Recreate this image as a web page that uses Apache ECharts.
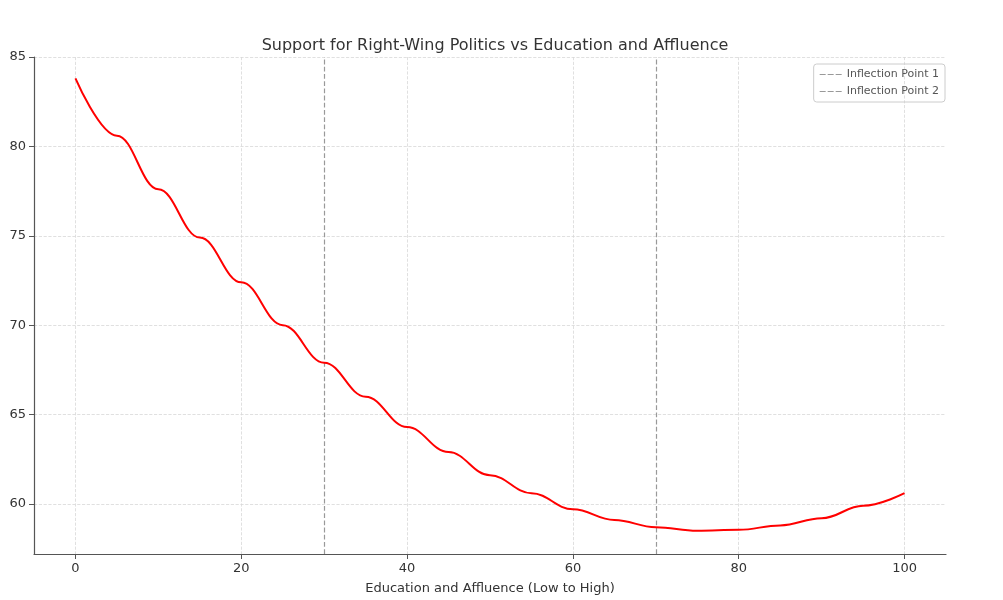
<!DOCTYPE html>
<html><head><meta charset="utf-8">
<script src="https://cdn.jsdelivr.net/npm/echarts@6/dist/echarts.min.js"></script>
<style>body{margin:0;background:#fff}#c{width:1003px;height:600px}</style>
</head><body><div id="c"></div>
<script>
// values
var xs = [0, 5, 10, 15, 20, 25, 30, 35, 40, 45, 50, 55, 60, 65, 70, 75, 80, 85, 90, 95, 100];
var support = [83.8, 80.6, 77.6, 74.9, 72.4, 70.0, 67.9, 66.0, 64.3, 62.9, 61.6, 60.6, 59.7, 59.1, 58.7, 58.5, 58.55, 58.8, 59.2, 59.9, 60.6];
var inflections = [30, 70];
var inflectionNames = ['Inflection Point 1', 'Inflection Point 2'];
var xTicks = [0, 20, 40, 60, 80, 100];
var yTicks = [60, 65, 70, 75, 80, 85];

var chart = echarts.init(document.getElementById('c'));
var font = 'DejaVu Sans';
var grid = {type: 'dashed', color: '#d8d8d8', width: 0.8};

var series = [{
    type: 'line',
    data: xs.map(function (x, i) { return [x, support[i]]; }),
    smooth: 0.4,
    smoothMonotone: 'x',
    symbol: 'none',
    lineStyle: {color: '#ff0000', width: 2},
    z: 5
}];
inflections.forEach(function (v, i) {
    series.push({
        name: inflectionNames[i],
        type: 'line',
        data: [],
        itemStyle: {color: '#999'},
        lineStyle: {color: '#999', type: 'dashed', width: 1.2},
        markLine: {
            silent: true, symbol: 'none', label: {show: false},
            lineStyle: {color: '#999', type: 'dashed', width: 1.2},
            data: [{xAxis: v}]
        }
    });
});

chart.setOption({
    animation: false,
    textStyle: {fontFamily: font},
    title: {
        text: 'Support for Right-Wing Politics vs Education and Affluence',
        left: 490, textAlign: 'center', top: 33,
        textStyle: {fontSize: 16, fontWeight: 'normal', color: '#333', fontFamily: font}
    },
    legend: {
        data: inflectionNames,
        orient: 'vertical', right: 58, top: 64,
        itemWidth: 22, itemHeight: 8, itemGap: 6,
        icon: 'path://M0,0H6V1H0Z M8,0H14V1H8Z M16,0H22V1H16Z',
        borderColor: '#ccc', borderWidth: 1, borderRadius: 3, padding: [5, 6],
        textStyle: {fontSize: 11, color: '#555'}
    },
    grid: {left: 34, right: 57, top: 57, bottom: 46},
    xAxis: {
        type: 'value', min: -5, max: 105,
        name: 'Education and Affluence (Low to High)',
        nameLocation: 'middle', nameGap: 28,
        nameTextStyle: {fontSize: 13, color: '#333'},
        axisLine: {onZero: false, lineStyle: {color: '#555', width: 1.2}},
        axisTick: {show: true, customValues: xTicks, lineStyle: {color: '#555'}},
        axisLabel: {customValues: xTicks, fontSize: 13, color: '#333'},
        splitLine: {show: true, lineStyle: grid}
    },
    yAxis: {
        type: 'value', min: 57.2, max: 85,
        axisLine: {show: true, onZero: false, lineStyle: {color: '#555', width: 1.2}},
        axisTick: {show: true, customValues: yTicks, lineStyle: {color: '#555'}},
        axisLabel: {customValues: yTicks, fontSize: 13, color: '#333'},
        splitLine: {show: true, lineStyle: grid}
    },
    series: series
});
</script></body></html>
